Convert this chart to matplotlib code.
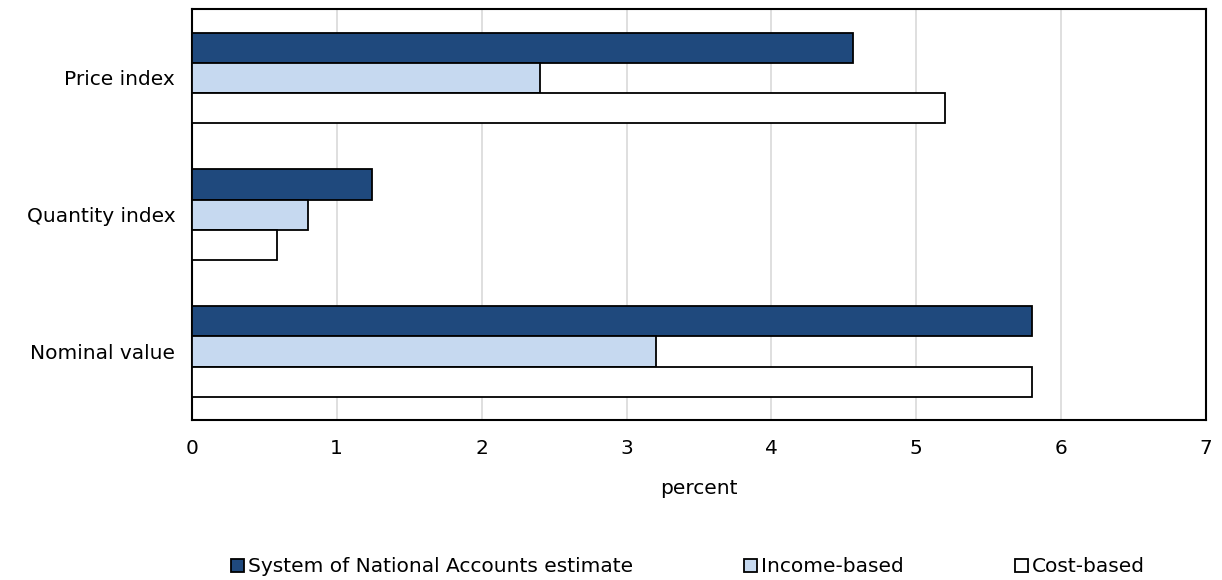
import matplotlib.pyplot as plt
import numpy as np

categories = ["Price index", "Quantity index", "Nominal value"]
series = ["System of National Accounts estimate", "Income-based", "Cost-based"]
sna = [4.56, 1.24, 5.8]
income = [2.4, 0.8, 3.2]
cost = [5.2, 0.59, 5.8]
colors = ["#1f497d", "#c6d9f0", "#ffffff"]

fig = plt.figure(figsize=(12.22, 5.8), dpi=100)
ax = fig.add_axes([0.157, 0.276, 0.83, 0.708])

y = np.arange(len(categories))
h = 0.22
for i, (vals, name, col) in enumerate(zip([sna, income, cost], series, colors)):
    ax.barh(y + (i - 1) * h, vals, height=h, color=col, edgecolor="black",
            linewidth=1.3, label=name, zorder=3)

ax.set_xlim(0, 7)
ax.set_ylim(2.5, -0.5)
ax.set_xticks(np.arange(0, 8, 1))
ax.set_yticks(y)
ax.set_yticklabels(categories)
ax.tick_params(axis="both", length=0, labelsize=14.5)
ax.tick_params(axis="x", pad=14)
ax.tick_params(axis="y", pad=12)
ax.grid(axis="x", color="#d9d9d9", linewidth=1.2, zorder=0)
for s in ax.spines.values():
    s.set_linewidth(1.5)
ax.set_xlabel("percent", fontsize=14.5, labelpad=15)

fig.legend(loc="lower center", bbox_to_anchor=(0.563, -0.025), ncol=3, frameon=False,
           fontsize=14.5, handlelength=0.65, handleheight=0.65, handletextpad=0.2,
           columnspacing=5.5)

fig.savefig("out.png")
